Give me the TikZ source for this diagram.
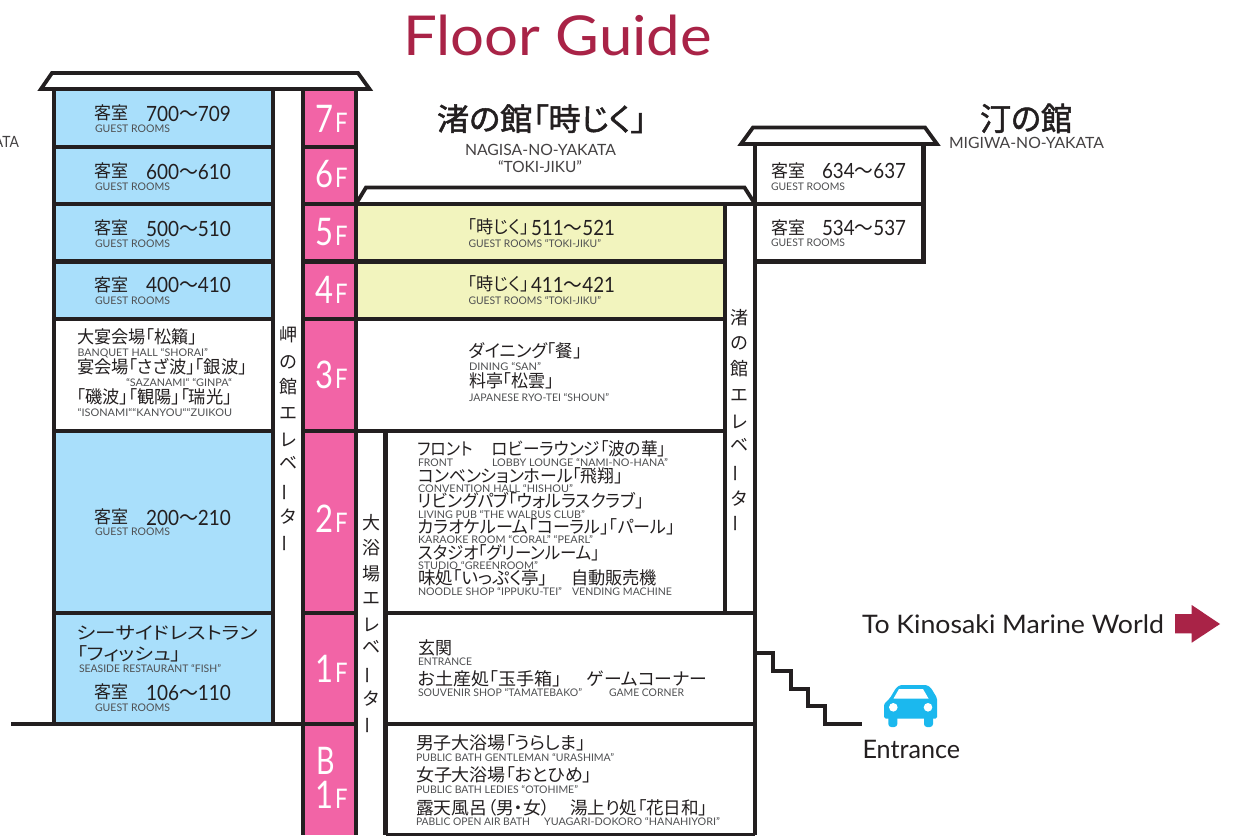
\documentclass[tikz,border=0pt]{standalone}
\usepackage{fontspec}
\usepackage{graphicx}
\setmainfont{Lato}
\newfontfamily\cjk[RawFeature={+palt}]{Noto Sans CJK JP}
\newfontfamily\cjkv{Noto Sans CJK JP}
\newfontfamily\cjkh[RawFeature={+palt},FakeBold=1.6]{Noto Sans CJK JP}
\definecolor{ink}{HTML}{231F20}
\definecolor{smallink}{HTML}{4F5052}
\definecolor{roomblue}{HTML}{A9DFFB}
\definecolor{floorpink}{HTML}{F264A6}
\definecolor{roomyellow}{HTML}{F2F4BE}
\definecolor{crimson}{HTML}{A92347}
\definecolor{carblue}{HTML}{1BB8EE}
\newcounter{tc}
\tikzset{
  lbl/.style={anchor=base west,inner sep=0pt,outer sep=0pt},
  vlbl/.style={anchor=center,inner sep=0pt,outer sep=0pt,text=ink},
  wall/.style={draw=ink,line width=4.1pt,line join=miter,line cap=butt},
  roof/.style={draw=ink,line width=3.8pt,line join=miter,fill=white}
}
% x, baseline, size, right x, colour, text
\newcommand\lab[6]{\stepcounter{tc}\pgfmathsetmacro\wdt{#4-(#1)}%
  \node[lbl,text=#5] (t\arabic{tc}) at (#1,#2) {\resizebox{\wdt pt}{\height}{\fontsize{#3}{#3}\selectfont #6}};}
\newcommand\jtx[4]{\lab{#1}{#2+0.4}{17.6}{#3}{ink}{\cjk #4}}
\newcommand\sml[4]{\lab{#1}{#2}{10.5}{#3}{smallink}{#4}}
\newcommand\numb[4]{\lab{#1}{#2}{21}{#3}{ink}{#4}}
\newcommand\rng[2]{#1{\cjk 〜}#2}
\newcommand\vch[3]{\stepcounter{tc}\node[vlbl] (t\arabic{tc}) at (#1,#2) {\fontsize{18}{18}\selectfont\cjkv #3};}
\newcommand\vbar{\rotatebox[origin=c]{90}{ー}}
\newcommand\flr[3]{\lab{315.5}{#2}{38}{333.5}{white}{#1}\lab{335}{#2}{27}{347.5}{white}{#3}}
\begin{document}
\begin{tikzpicture}[x=1pt,y=-1pt]
\useasboundingbox (0,0) rectangle (1247,835);
\fill[white] (0,0) rectangle (1247,835);
% fills
\fill[roomblue] (54,89) rectangle (273,319);
\fill[roomblue] (54,431) rectangle (273,724);
\fill[floorpink] (303,89) rectangle (356,835);
\fill[roomyellow] (356,204) rectangle (725,319);
% roofs
\draw[roof] (41,89) -- (52,73) -- (358,73) -- (369.5,89) -- cycle;
\draw[roof] (356,204) -- (366,187.5) -- (744.5,187.5) -- (755,204);
\draw[roof] (741,144) -- (753,127.5) -- (925,127.5) -- (937,144) -- cycle;
% left building
\draw[wall] (54,89) -- (54,724);
\draw[wall] (273,89) -- (273,724);
\draw[wall] (303,89) -- (303,835);
\draw[wall] (356,89) -- (356,835);
\foreach \yy in {147,204,261.5,319,431,613}{\draw[wall] (54,\yy) -- (273,\yy);\draw[wall] (303,\yy) -- (356,\yy);}
\draw[wall] (11,724) -- (303,724) -- (356,724);
% middle building
\draw[wall] (356,204) -- (755,204);
\foreach \yy in {261.5,319,431}{\draw[wall] (356,\yy) -- (725,\yy);}
\draw[wall] (725,204) -- (725,613);
\draw[wall] (385.5,431) -- (385.5,835);
\draw[wall] (385.5,613) -- (755,613);
\draw[wall] (385.5,724) -- (755,724);
\draw[wall] (385.5,835.5) -- (755,835.5);
\draw[wall] (755,144) -- (755,835);
% right building
\draw[wall] (923.5,144) -- (923.5,263.5);
\draw[wall] (755,261.5) -- (925.5,261.5);
\draw[wall] (755,204) -- (923.5,204);
% stairs
\draw[wall,line width=3.8pt] (755,653) -- (772.7,653) -- (772.7,671) -- (790.7,671) -- (790.7,688.7) -- (808,688.7) -- (808,706) -- (825,706) -- (825,724) -- (861.7,724);
% arrow
\fill[crimson] (1175,614) -- (1191.7,614) -- (1191.7,605) -- (1220,624) -- (1191.7,642.7) -- (1191.7,633.3) -- (1175,633.3) -- cycle;
% car
\fill[carblue,rounded corners=1.5pt] (884,718.5) -- (884,704) -- (890,698) -- (896,688) -- (900,685) -- (927,685) -- (931,688) -- (937,698) -- (937,718.5) -- cycle;
\fill[white] (893.5,698.5) -- (899,689) -- (923,689) -- (928.5,698.5) -- cycle;
\fill[carblue,rounded corners=3pt] (888.3,714) rectangle (897.3,727);
\fill[carblue,rounded corners=3pt] (924,714) rectangle (933,727);
\fill[white] (893.3,707.3) circle (4.3);
\fill[white] (928,707.3) circle (4.3);
% title and headings
\lab{403}{55}{55}{712}{crimson}{Floor Guide}
\lab{-6}{147}{15.5}{19}{ink!85}{ATA}
\lab{437}{130.5}{31}{647}{ink}{\cjkh 渚の館「時じく」}
\lab{465}{155}{15.5}{616}{ink!85}{NAGISA-NO-YAKATA}
\lab{498}{172}{15.5}{582}{ink!85}{“TOKI-JIKU”}
\lab{980}{130.5}{32}{1072}{ink}{\cjkh 汀の館}
\lab{949}{148}{15.5}{1104}{ink!85}{MIGIWA-NO-YAKATA}
\lab{862}{633.7}{25.5}{1164}{ink}{To Kinosaki Marine World}
\lab{862.5}{758.3}{25.5}{960}{ink}{Entrance}
% floor marks
\flr{7}{132}{F}
\flr{6}{187}{F}
\flr{5}{245}{F}
\flr{4}{303}{F}
\flr{3}{388}{F}
\flr{2}{532}{F}
\flr{1}{682}{F}
\lab{316}{774}{38}{334.5}{white}{B}
\flr{1}{808}{F}
% guest rooms, left
\jtx{94}{119.5}{128}{客室}\numb{146}{121.5}{231}{\rng{700}{709}}\sml{95}{132.3}{170}{GUEST ROOMS}
\jtx{94}{177}{128}{客室}\numb{146}{179}{231}{\rng{600}{610}}\sml{95}{190.7}{170}{GUEST ROOMS}
\jtx{94}{234}{128}{客室}\numb{146}{236}{231}{\rng{500}{510}}\sml{95}{247.3}{170}{GUEST ROOMS}
\jtx{94}{291}{128}{客室}\numb{146}{292.7}{231}{\rng{400}{410}}\sml{95}{304.3}{170}{GUEST ROOMS}
\jtx{94}{523.5}{128}{客室}\numb{146}{525}{231}{\rng{200}{210}}\sml{95}{535.7}{170}{GUEST ROOMS}
\jtx{94}{698}{128}{客室}\numb{146}{700}{231}{\rng{106}{110}}\sml{95}{711}{170}{GUEST ROOMS}
% 3F left
\jtx{77}{343.5}{197}{大宴会場「松籟」}\sml{77.5}{356}{208}{BANQUET HALL “SHORAI”}
\jtx{77}{373.5}{247}{宴会場「さざ波」「銀波」}\sml{126}{386}{232}{“SAZANAMI“ “GINPA“}
\jtx{77}{403.5}{232}{「磯波」「観陽」「瑞光」}\sml{77.5}{416.7}{232}{“ISONAMI““KANYOU““ZUIKOU}
% 1F left
\jtx{77}{639.5}{258}{シーサイドレストラン}
\jtx{77}{660.5}{181}{「フィッシュ」}
\sml{79}{672.7}{221}{SEASIDE RESTAURANT “FISH”}
% middle 5F 4F 3F
\jtx{468}{233}{529}{「時じく」}\numb{531}{235}{615}{\rng{511}{521}}\sml{468.5}{247.3}{601}{GUEST ROOMS “TOKI-JIKU”}
\jtx{468}{290.5}{529}{「時じく」}\numb{531}{292}{615}{\rng{411}{421}}\sml{468.5}{304}{601}{GUEST ROOMS “TOKI-JIKU”}
\jtx{469}{357}{582}{ダイニング「餐」}\sml{469}{370.7}{541}{DINING “SAN”}
\jtx{469}{387}{554}{料亭「松雲」}\sml{469}{401.7}{609}{JAPANESE RYO-TEI “SHOUN”}
% 2F
\jtx{418}{455.5}{473}{フロント}\jtx{492}{455.5}{666}{ロビーラウンジ「波の華」}
\sml{418}{466.7}{453}{FRONT}\sml{492}{466.7}{668}{LOBBY LOUNGE “NAMI-NO-HANA”}
\jtx{418}{482}{623}{コンベンションホール「飛翔」}\sml{418}{492}{573}{CONVENTION HALL “HISHOU”}
\jtx{418}{507}{644}{リビングパブ「ウォルラスクラブ」}\sml{418}{518}{585}{LIVING PUB “THE WALRUS CLUB”}
\jtx{418}{533}{675}{カラオケルーム「コーラル」「パール」}\sml{418}{543.5}{593}{KARAOKE ROOM “CORAL” “PEARL”}
\jtx{418}{559}{600}{スタジオ「グリーンルーム」}\sml{418}{569.5}{538}{STUDIO “GREENROOM”}
\jtx{418}{584}{548}{味処「いっぷく亭」}\jtx{571}{584}{657}{自動販売機}
\sml{418}{595}{562}{NOODLE SHOP “IPPUKU-TEI”}\sml{572}{595}{672}{VENDING MACHINE}
% 1F
\jtx{418}{654.5}{452}{玄関}\sml{418}{665}{472}{ENTRANCE}
\jtx{418}{685.5}{562}{お土産処「玉手箱」}\jtx{587}{685.5}{707}{ゲームコーナー}
\sml{418}{696.7}{582}{SOUVENIR SHOP “TAMATEBAKO”}\sml{609}{696.7}{684}{GAME CORNER}
% B1F
\jtx{416}{749.5}{586}{男子大浴場「うらしま」}\sml{416}{761}{614}{PUBLIC BATH GENTLEMAN “URASHIMA”}
\jtx{416}{781}{592}{女子大浴場「おとひめ」}\sml{416}{793.3}{578}{PUBLIC BATH LEDIES “OTOHIME”}
\jtx{416}{814}{550}{露天風呂（男・女）}\jtx{570}{814}{708}{湯上り処「花日和」}
\sml{416}{825.7}{530}{PABLIC OPEN AIR BATH}\sml{544}{825.7}{720}{YUAGARI-DOKORO “HANAHIYORI”}
% right building
\jtx{771}{177}{805}{客室}\numb{822}{178}{906}{\rng{634}{637}}\sml{771}{190}{845}{GUEST ROOMS}
\jtx{771}{234}{805}{客室}\numb{822}{235}{906}{\rng{534}{537}}\sml{771}{246.7}{845}{GUEST ROOMS}
% elevators
\vch{288}{335}{岬}\vch{288}{362}{の}\vch{288}{387}{館}\vch{288}{413}{エ}\vch{288}{440}{レ}\vch{288}{463}{ベ}\vch{288}{492}{\vbar}\vch{288}{517}{タ}\vch{288}{543}{\vbar}
\vch{739}{318}{渚}\vch{739}{343}{の}\vch{739}{369}{館}\vch{739}{395}{エ}\vch{739}{422}{レ}\vch{739}{445}{ベ}\vch{739}{473}{\vbar}\vch{739}{499}{タ}\vch{739}{523}{\vbar}
\vch{371}{523}{大}\vch{371}{548}{浴}\vch{371}{574}{場}\vch{371}{598}{エ}\vch{371}{625}{レ}\vch{371}{647}{ベ}\vch{371}{675}{\vbar}\vch{371}{699}{タ}\vch{371}{725}{\vbar}
\end{tikzpicture}
\end{document}
